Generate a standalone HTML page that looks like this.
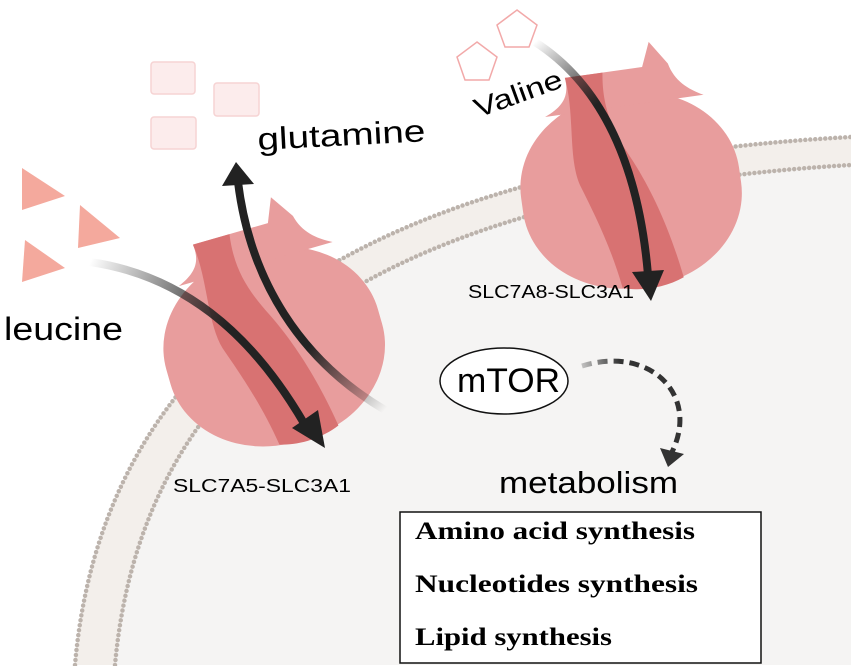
<!DOCTYPE html>
<html><head><meta charset="utf-8"><style>
html,body{margin:0;padding:0;background:#fff}
svg{display:block}
text{font-family:"Liberation Sans",sans-serif}
.s{font-family:"Liberation Serif",serif;font-weight:bold}
</style></head><body>
<svg width="851" height="672" viewBox="0 0 851 672" xmlns="http://www.w3.org/2000/svg">
<defs>
<linearGradient id="fadeL" gradientUnits="userSpaceOnUse" x1="90" y1="262" x2="230" y2="320">
<stop offset="0" stop-color="#222" stop-opacity="0"/><stop offset="1" stop-color="#222"/></linearGradient>
<linearGradient id="fadeG" gradientUnits="userSpaceOnUse" x1="385" y1="410" x2="310" y2="345">
<stop offset="0" stop-color="#222" stop-opacity="0"/><stop offset="1" stop-color="#222"/></linearGradient>
<linearGradient id="fadeV" gradientUnits="userSpaceOnUse" x1="535" y1="42" x2="590" y2="110">
<stop offset="0" stop-color="#222" stop-opacity="0"/><stop offset="1" stop-color="#222"/></linearGradient>
<linearGradient id="fadeM" gradientUnits="userSpaceOnUse" x1="580" y1="372" x2="620" y2="362">
<stop offset="0" stop-color="#333" stop-opacity="0.2"/><stop offset="1" stop-color="#333"/></linearGradient>
<g id="tr">
<rect x="-110" y="-75" width="220" height="195" rx="105" ry="90" fill="#e89d9d"/>
<path d="M-75 -62 C-55 -70 -48 -80 -50 -98 L28 -98 L38 -122 L54 -98 C58 -80 70 -70 85 -62 Z" fill="#e89d9d"/>
<path d="M-50 -98 L-12 -98 C-18 -60 -8 -35 5 -8 C18 20 32 60 40 116 C20 124 -5 124 -22 118 C-28 75 -40 40 -50 10 C-58 -20 -45 -60 -50 -98 Z" fill="#d87272"/>
</g>
</defs>
<!-- cell -->
<path d="M115 665 C140 390 340 195 851 165 L851 665 Z" fill="#f5f4f3"/>
<path d="M75 665 C100 375 320 165 851 137 L851 165 C340 195 140 390 115 665 Z" fill="#f3efeb"/>
<g fill="none" stroke="#bcb3ac" stroke-width="4.5" stroke-linecap="round" stroke-dasharray="0 5">
<path d="M75 665 C100 375 320 165 851 137"/>
<path d="M115 665 C140 390 340 195 851 165"/>
</g>
<!-- molecules -->
<g fill="#f4a99d">
<path d="M22 168 L65 196 L22 210 Z"/>
<path d="M80 205 L120 238 L78 248 Z"/>
<path d="M25 240 L65 268 L22 282 Z"/>
</g>
<g fill="#fcecec" stroke="#f6d3d3" stroke-width="1.5">
<rect x="151" y="62" width="44" height="32" rx="3"/>
<rect x="214" y="83" width="45" height="33" rx="3"/>
<rect x="151" y="117" width="45" height="32" rx="3"/>
</g>
<g fill="none" stroke="#f2a9a9" stroke-width="1.5">
<path d="M477 42 L497 57 L489 80 L465 80 L457 57 Z"/>
<path d="M517 10 L537 25 L529 47 L505 47 L497 25 Z"/>
</g>
<!-- transporters -->
<use href="#tr" transform="translate(268,325) rotate(-16)"/>
<use href="#tr" transform="translate(628,168) rotate(-8)"/>
<!-- arrows -->
<path d="M90 262 C180 275 250 330 305 425" fill="none" stroke="url(#fadeL)" stroke-width="8"/>
<path d="M292 428 L325 448 L318 410 Z" fill="#222"/>
<path d="M385 410 C300 360 250 280 238 182" fill="none" stroke="url(#fadeG)" stroke-width="8"/>
<path d="M222 186 L236 162 L254 184 Z" fill="#222"/>
<path d="M535 42 C610 90 640 180 648 275" fill="none" stroke="url(#fadeV)" stroke-width="8"/>
<path d="M632 272 L651 301 L664 270 Z" fill="#222"/>
<!-- labels -->
<text x="258" y="150" font-size="31" textLength="168" lengthAdjust="spacingAndGlyphs" transform="rotate(-3 258 150)">glutamine</text>
<text x="478" y="118" font-size="27" textLength="92" lengthAdjust="spacingAndGlyphs" transform="rotate(-20 478 118)">Valine</text>
<text x="4" y="340" font-size="32" textLength="119" lengthAdjust="spacingAndGlyphs">leucine</text>
<text x="468" y="298" font-size="18" textLength="166" lengthAdjust="spacingAndGlyphs">SLC7A8-SLC3A1</text>
<text x="173" y="492" font-size="18" textLength="178" lengthAdjust="spacingAndGlyphs">SLC7A5-SLC3A1</text>
<ellipse cx="504" cy="381" rx="64" ry="33" fill="#fff" stroke="#111" stroke-width="1.5"/>
<text x="457" y="392" font-size="34" textLength="103" lengthAdjust="spacingAndGlyphs">mTOR</text>
<path d="M582 366 C650 345 700 395 672 452" fill="none" stroke="url(#fadeM)" stroke-width="5" stroke-dasharray="10 6"/>
<path d="M660 448 L668 467 L684 454 Z" fill="#333"/>
<text x="499" y="493" font-size="31" textLength="179" lengthAdjust="spacingAndGlyphs">metabolism</text>
<rect x="400" y="512" width="361" height="151" fill="#fff" stroke="#111" stroke-width="1.5"/>
<text class="s" x="415" y="539" font-size="25" textLength="280" lengthAdjust="spacingAndGlyphs">Amino acid synthesis</text>
<text class="s" x="415" y="592" font-size="25" textLength="283" lengthAdjust="spacingAndGlyphs">Nucleotides synthesis</text>
<text class="s" x="415" y="645" font-size="25" textLength="197" lengthAdjust="spacingAndGlyphs">Lipid synthesis</text>
<rect x="0" y="666" width="851" height="6" fill="#fff"/>
</svg>
</body></html>
